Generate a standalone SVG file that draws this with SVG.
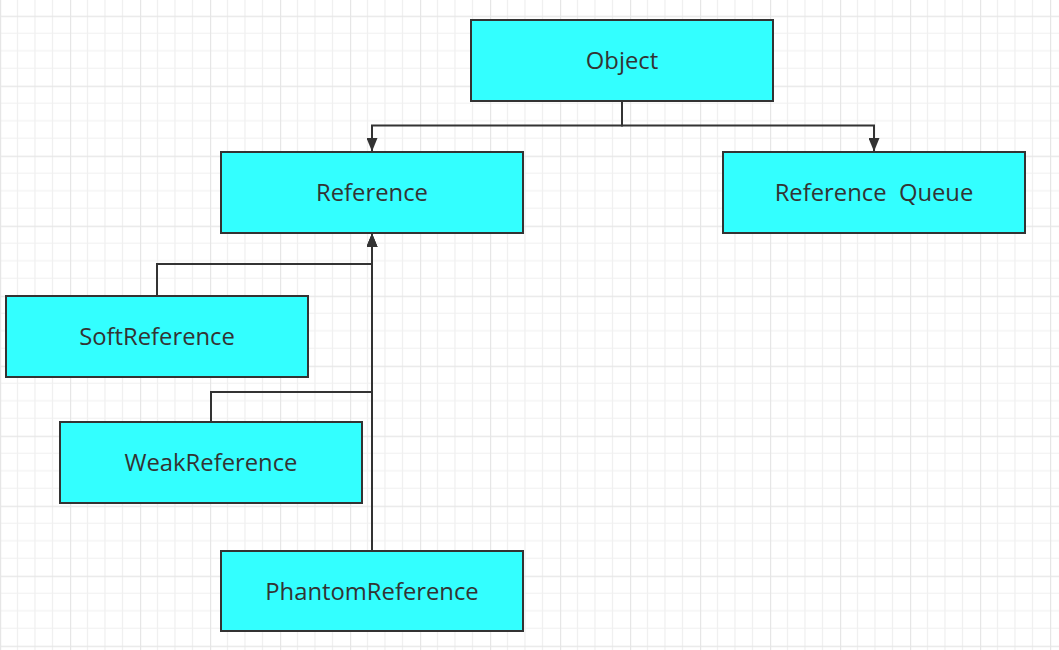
<svg xmlns="http://www.w3.org/2000/svg" width="1059" height="650" viewBox="0 0 1059 650">
  <style>
    .node rect { fill: #33ffff; stroke: #333333; stroke-width: 2; }
    .node text { font-family: "Open Sans", "Noto Sans", "Liberation Sans", sans-serif; font-size: 23.8px; fill: #333333; text-anchor: middle; }
    .conn path { fill: none; stroke: #333333; stroke-width: 2; }
  </style>
  <defs>
    <pattern id="grid" x="0" y="15.7" width="70" height="70" patternUnits="userSpaceOnUse">
      <rect width="70" height="70" fill="#ffffff"/>
      <path d="M17.5 0V70M35 0V70M52.5 0V70M0 17.5H70M0 35H70M0 52.5H70" stroke="#f0f0f0" stroke-width="1.2" fill="none"/>
      <path d="M0.5 0V70M0 0.5H70" stroke="#e6e6e6" stroke-width="1.4" fill="none"/>
    </pattern>
    <marker id="arrow" markerUnits="userSpaceOnUse" markerWidth="14" markerHeight="11" refX="13" refY="5.5" orient="auto">
      <path d="M0 0L13.5 5.5L0 11Z" fill="#333333"/>
    </marker>
  </defs>
  <rect width="1059" height="650" fill="url(#grid)"/>

  <g id="connectors" class="conn">
    <path d="M622 101V125.5H372V151" marker-end="url(#arrow)"/>
    <path d="M622 101V125.5H874V151" marker-end="url(#arrow)"/>
    <path d="M157 296V264H372V234" marker-end="url(#arrow)"/>
    <path d="M211 422V392H372V234" marker-end="url(#arrow)"/>
    <path d="M372 551V234" marker-end="url(#arrow)"/>
  </g>

  <g id="object" class="node">
    <rect x="471" y="20" width="302" height="81"/>
    <text x="622" y="68.8">Object</text>
  </g>
  <g id="reference" class="node">
    <rect x="221" y="152" width="302" height="81"/>
    <text x="372" y="200.8">Reference</text>
  </g>
  <g id="reference-queue" class="node">
    <rect x="723" y="152" width="302" height="81"/>
    <text x="874" y="200.8" xml:space="preserve">Reference  Queue</text>
  </g>
  <g id="soft-reference" class="node">
    <rect x="6" y="296" width="302" height="81"/>
    <text x="157" y="344.8">SoftReference</text>
  </g>
  <g id="weak-reference" class="node">
    <rect x="60" y="422" width="302" height="81"/>
    <text x="211" y="470.8">WeakReference</text>
  </g>
  <g id="phantom-reference" class="node">
    <rect x="221" y="551" width="302" height="80"/>
    <text x="372" y="600">PhantomReference</text>
  </g>
</svg>
